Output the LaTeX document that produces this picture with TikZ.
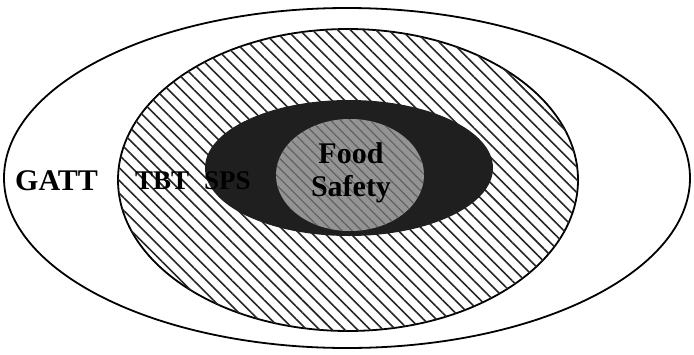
\documentclass[tikz,border=0pt]{standalone}
\usepackage{fontspec}
\setmainfont{Liberation Serif}
\usetikzlibrary{shapes.geometric,patterns.meta}

\begin{document}
\begin{tikzpicture}[
    x=1pt, y=-1pt,
    zone/.style={
        ellipse,
        draw,
        line width=1.8pt,
        inner sep=0pt
    },
    label/.style={
        font=\bfseries\fontsize{29}{32}\selectfont,
        inner sep=0pt
    }
]
\useasboundingbox (0,0) rectangle (694,354);

% outer agreement
\node[zone, minimum width=686pt, minimum height=340pt] (gatt) at (347,178) {};

% hatched zone
\node[zone, minimum width=460pt, minimum height=302pt,
      fill=white,
      postaction={pattern={Lines[angle=-45,distance=9pt,line width=1.6pt]},
                  pattern color=black!85}] (tbt) at (348,180) {};

% dark zone
\node[ellipse, minimum width=288pt, minimum height=136pt, inner sep=0pt,
      fill=black!88] (sps) at (349,168) {};

% inner zone
\node[ellipse, minimum width=148pt, minimum height=112pt, inner sep=0pt,
      fill=black!42,
      postaction={pattern={Lines[angle=-45,distance=7pt,line width=1.2pt]},
                  pattern color=black!62}] (food) at (350,175) {};

\node[label, anchor=west, font=\bfseries\fontsize{30}{32}\selectfont] (gattlabel) at (15,181) {GATT};
\node[label, anchor=west, font=\bfseries\fontsize{27}{32}\selectfont] (tbtlabel) at (135,181) {TBT};
\node[label, anchor=west, font=\bfseries\fontsize{27}{32}\selectfont] (spslabel) at (204,181) {SPS};
\node[label, align=center, font=\bfseries\fontsize{30}{33}\selectfont] (foodlabel) at (351,173) {Food\\Safety};

\end{tikzpicture}
\end{document}
